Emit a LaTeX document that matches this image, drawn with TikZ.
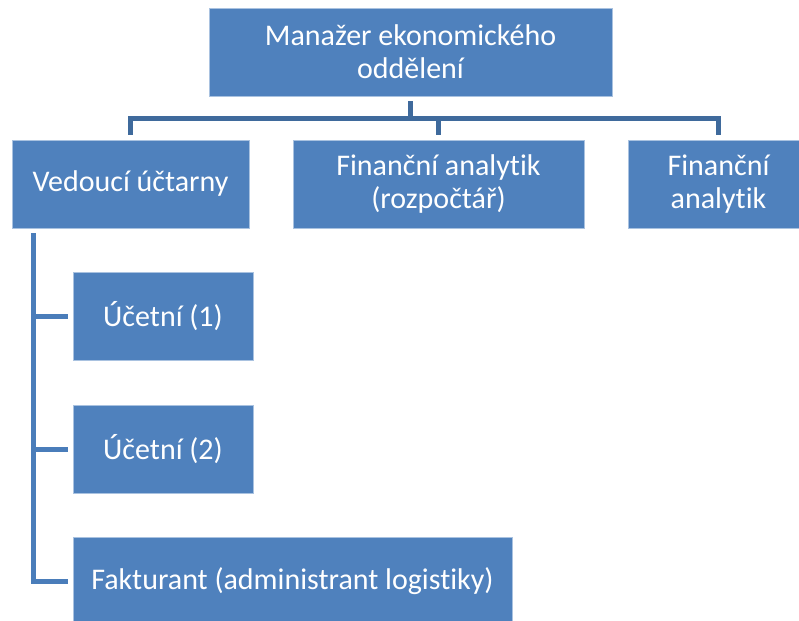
\documentclass[tikz,border=0pt]{standalone}
\usepackage{fontspec}
\setmainfont{Carlito}[Ligatures=NoCommon]
\begin{document}
\begin{tikzpicture}[x=1pt,y=-1pt,
  unit/.style={rectangle, fill=boxblue, draw=boxedge, line width=0.8pt,
    minimum height=88pt, inner sep=2pt, align=center, text=white,
    font=\fontsize{30pt}{33pt}\selectfont},
  bus/.style={draw=busdark, line width=5pt, line join=miter},
  spine/.style={draw=spineblue, line width=5pt, line join=miter}]
  \definecolor{boxblue}{HTML}{4F81BD}
  \definecolor{boxedge}{HTML}{A9C2E0}
  \definecolor{busdark}{HTML}{3F6A9C}
  \definecolor{spineblue}{HTML}{4A7DBA}
  \clip (0,0) rectangle (799,620);

  % department head
  \node[unit, minimum width=403pt] (top) at (410.5,52) {Manažer ekonomického\\oddělení};

  % second level
  \node[unit, minimum width=237pt] (vd) at (130.5,184) {Vedoucí účtarny};
  \node[unit, minimum width=291pt] (fr) at (438.5,184) {Finanční analytik\\(rozpočtář)};
  \node[unit, minimum width=181pt] (fa) at (718.5,184) {Finanční\\analytik};

  % staff under the head of accounting
  \node[unit, minimum width=180pt] (u1) at (163,316) {Účetní (1)};
  \node[unit, minimum width=180pt] (u2) at (163,449) {Účetní (2)};
  \node[unit, minimum width=439pt] (fk) at (292.5,581) {Fakturant (administrant logistiky)};

  % horizontal bus below the head
  \coordinate (busmid) at (410.5,118.5);
  \draw[bus] ([yshift=-5pt]top.south) -- (busmid);
  \draw[bus] ([yshift=5pt]vd.north) |- (busmid) -| ([yshift=5pt]fa.north);
  \draw[bus] ([yshift=5pt]fr.north) -- (fr.north |- busmid);

  % vertical spine with side branches
  \coordinate (spinetop) at (33.5,233);
  \draw[spine] (spinetop) |- ([xshift=-5pt]fk.west);
  \draw[spine] ([xshift=-5pt]u1.west) -- (u1.west -| spinetop);
  \draw[spine] ([xshift=-5pt]u2.west) -- (u2.west -| spinetop);
\end{tikzpicture}
\end{document}
